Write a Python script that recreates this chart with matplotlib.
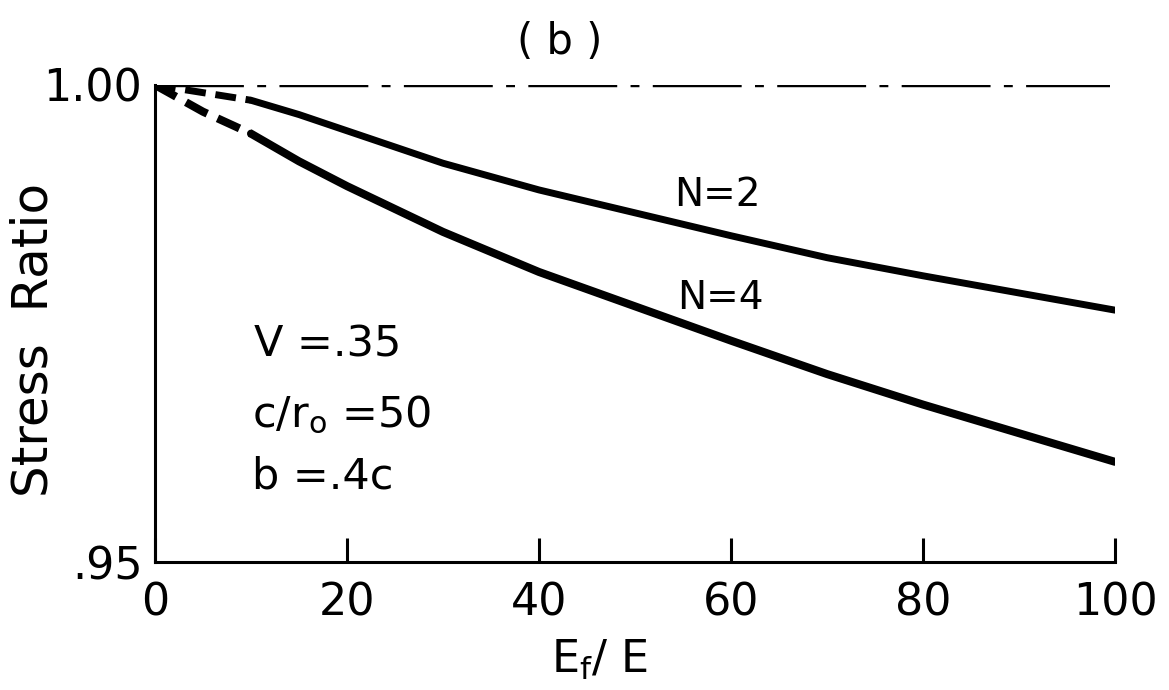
"""Recreate the stress ratio vs. modulus ratio figure (panel b)."""

import matplotlib

matplotlib.use("Agg")
import matplotlib.pyplot as plt

plt.rcParams["font.family"] = ["DejaVu Sans"]
plt.rcParams["mathtext.default"] = "regular"

# values
modulus_ratio = [0, 5, 10, 15, 20, 30, 40, 50, 60, 70, 80, 90, 100]
stress_n2 = [1.0000, 0.9992, 0.9984, 0.9969, 0.9952, 0.9918, 0.9890,
             0.9866, 0.9842, 0.9819, 0.9800, 0.9782, 0.9764]
stress_n4 = [1.0000, 0.9972, 0.9949, 0.9920, 0.9894, 0.9846, 0.9804,
             0.9768, 0.9732, 0.9697, 0.9665, 0.9635, 0.9605]
dashed_count = 3  # first points (0..10) are drawn dashed
reference_level = 1.00

x_ticks = [0, 20, 40, 60, 80, 100]
y_ticks = [0.95, 1.00]
y_tick_labels = [".95", "1.00"]

W, H = 1169, 690
fig = plt.figure(figsize=(W / 100, H / 100), dpi=100)
ax = fig.add_axes([155 / W, 1 - 562 / H, (1115 - 155) / W, (562 - 85) / H])

ax.axhline(reference_level, xmin=0, xmax=0.995, color="black", lw=3.2,
           dashes=(20, 3, 2, 3))

for values, width in ((stress_n2, 5.0), (stress_n4, 5.8)):
    ax.plot(modulus_ratio[:dashed_count], values[:dashed_count],
            color="black", lw=width, dashes=(3, 1.4), solid_capstyle="round")
    ax.plot(modulus_ratio[dashed_count - 1:], values[dashed_count - 1:],
            color="black", lw=width, solid_capstyle="round",
            solid_joinstyle="round")

ax.set_xlim(0, 100)
ax.set_ylim(0.95, 1.0)
ax.set_xticks(x_ticks)
ax.set_yticks(y_ticks)
ax.set_yticklabels(y_tick_labels)

for side in ("top", "right"):
    ax.spines[side].set_visible(False)
for side in ("left", "bottom"):
    ax.spines[side].set_linewidth(2.2)

ax.tick_params(axis="x", direction="in", length=17, width=2.2, pad=14,
               labelsize=32)
ax.tick_params(axis="y", length=0, pad=9, labelsize=32)

ax.text(58.6, 0.9885, "N=2", fontsize=28, ha="center", va="center")
ax.text(58.9, 0.9777, "N=4", fontsize=28, ha="center", va="center")
ax.text(18.0, 0.9728, "V =.35", fontsize=31, ha="center", va="center")
ax.text(19.4, 0.9654, "c/r$_\\mathregular{o}$ =50", fontsize=31,
        ha="center", va="center")
ax.text(17.5, 0.9590, "b =.4c", fontsize=31, ha="center", va="center")

fig.text(34 / W, 1 - 340 / H, "Stress  Ratio", fontsize=36, rotation=90,
         ha="center", va="center")
fig.text(560 / W, 1 - 42 / H, "( b )", fontsize=30, ha="center", va="center")
fig.text(600 / W, 1 - 660 / H, "E$_\\mathregular{f}$/ E", fontsize=32,
         ha="center", va="center")

fig.savefig("out.png", dpi=100)
plt.close(fig)
